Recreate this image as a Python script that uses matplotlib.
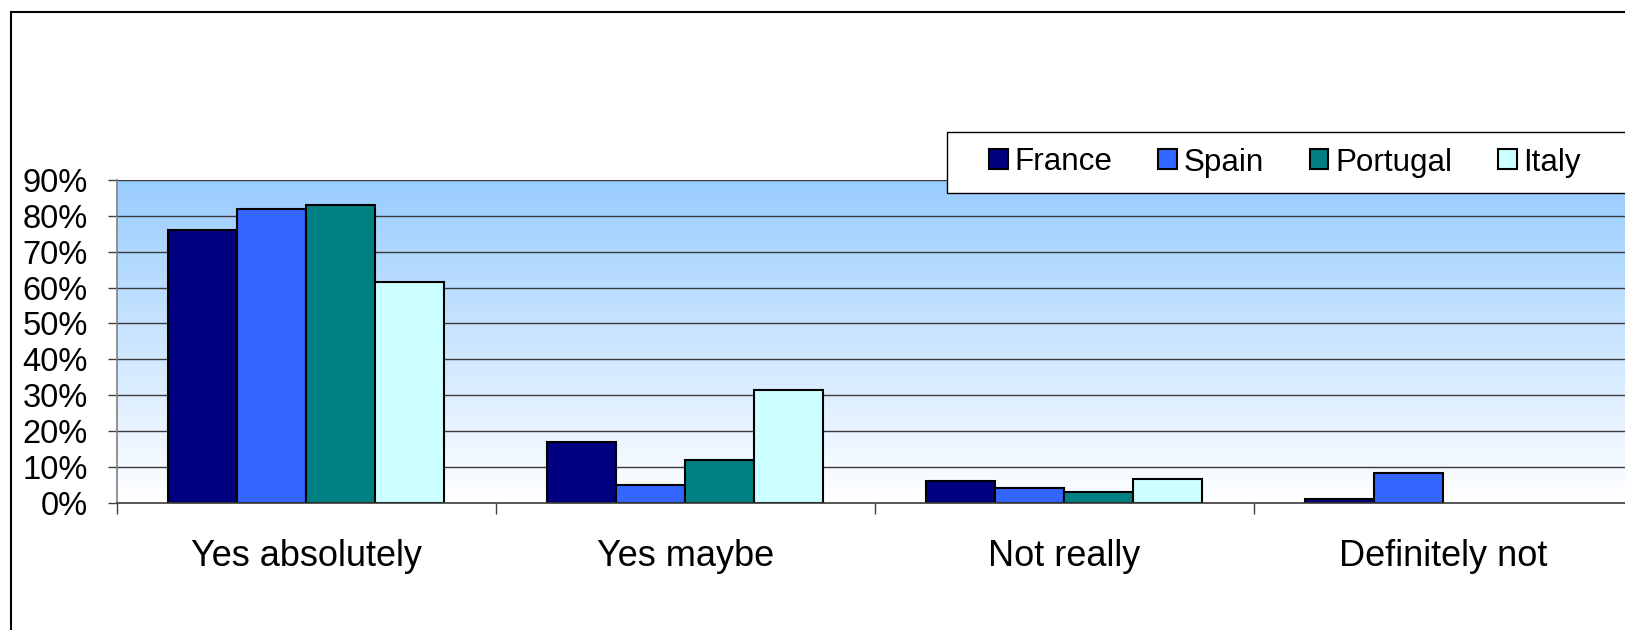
import matplotlib.pyplot as plt
import numpy as np
from matplotlib.patches import Rectangle
from matplotlib.ticker import PercentFormatter, FixedLocator

plt.rcParams['font.family'] = ['Liberation Sans', 'DejaVu Sans']

categories = ['Yes absolutely', 'Yes maybe', 'Not really', 'Definitely not']
countries = ['France', 'Spain', 'Portugal', 'Italy']
france = [0.76, 0.17, 0.06, 0.009]
spain = [0.82, 0.05, 0.04, 0.083]
portugal = [0.83, 0.12, 0.03, 0.0]
italy = [0.615, 0.315, 0.065, 0.0]
colors = ['#000080', '#3366FF', '#008080', '#CCFFFF']

W, H = 1625, 630
fig = plt.figure(figsize=(W / 100, H / 100), dpi=100)
fig.patch.set_facecolor('white')

# plot area runs past the right edge, like the cropped original
ax = fig.add_axes([116.7 / W, (H - 502.7) / H, 4 * 379 / W, 322.7 / H])

# blue-to-white gradient background
grad = np.linspace(1, 0, 256).reshape(-1, 1)
top = np.array([0x99, 0xCC, 0xFF]) / 255
img = np.ones((256, 1, 3)) * (1 - grad[..., None]) + top * grad[..., None]
ax.imshow(img, extent=(0, 4, 0, 0.9), aspect='auto', zorder=0, interpolation='bilinear')

for y in np.arange(0.1, 0.91, 0.1):
    ax.axhline(y, color='#3a3a3a', lw=1.0, zorder=1)

bw = 1 / 5.5
x = np.arange(len(categories))
series = [france, spain, portugal, italy]
for i, (name, vals) in enumerate(zip(countries, series)):
    lws = [1.5 if v > 0 else 0 for v in vals]
    ax.bar(x + 0.75 * bw + (i + 0.5) * bw, vals, width=bw, color=colors[i],
           edgecolor='black', linewidth=lws, label=name, zorder=3)

ax.set_xlim(0, 4)
ax.set_ylim(0, 0.9)

ax.yaxis.set_major_locator(FixedLocator(np.arange(0, 0.91, 0.1)))
ax.yaxis.set_major_formatter(PercentFormatter(1.0, decimals=0))
ax.tick_params(axis='y', length=6.5, width=1, color='#404040', pad=14.5,
               labelsize=23.5)

ax.set_xticks([0, 1, 2, 3, 4])
ax.set_xticklabels([])
ax.set_xticks(x + 0.5, minor=True)
ax.set_xticklabels(categories, minor=True, fontsize=26)
ax.tick_params(axis='x', which='major', length=8, width=1, color='#404040')
ax.tick_params(axis='x', which='minor', length=0, pad=26)

for s in ['top', 'right']:
    ax.spines[s].set_visible(False)
ax.spines['left'].set_color('#808080')
ax.spines['left'].set_linewidth(1.2)
ax.spines['bottom'].set_color('#3a3a3a')
ax.spines['bottom'].set_linewidth(1.2)
ax.spines['bottom'].set_zorder(4)

# legend box, cut off at the right edge
box = Rectangle((947 / W, 1 - 192.7 / H), 0.6, 60.7 / H, transform=fig.transFigure,
                facecolor='white', edgecolor='black', linewidth=1.0, zorder=5)
fig.patches.append(box)

handles, labels = ax.get_legend_handles_labels()
leg = fig.legend(handles, labels, loc='center left', bbox_to_anchor=(989 / W, 1 - 162.5 / H),
                 ncol=4, frameon=False, fontsize=22.6, borderpad=0, borderaxespad=0,
                 handlelength=0.6, handleheight=0.6, handletextpad=0.22,
                 columnspacing=1.45)
leg.set_zorder(6)

# outer chart border
outer = Rectangle((10.7 / W, -0.1), 1.2, 1 - 11.7 / H + 0.1, transform=fig.transFigure,
                  facecolor='none', edgecolor='black', linewidth=1.5, zorder=7)
fig.patches.append(outer)

fig.savefig('out.png', dpi=100)
